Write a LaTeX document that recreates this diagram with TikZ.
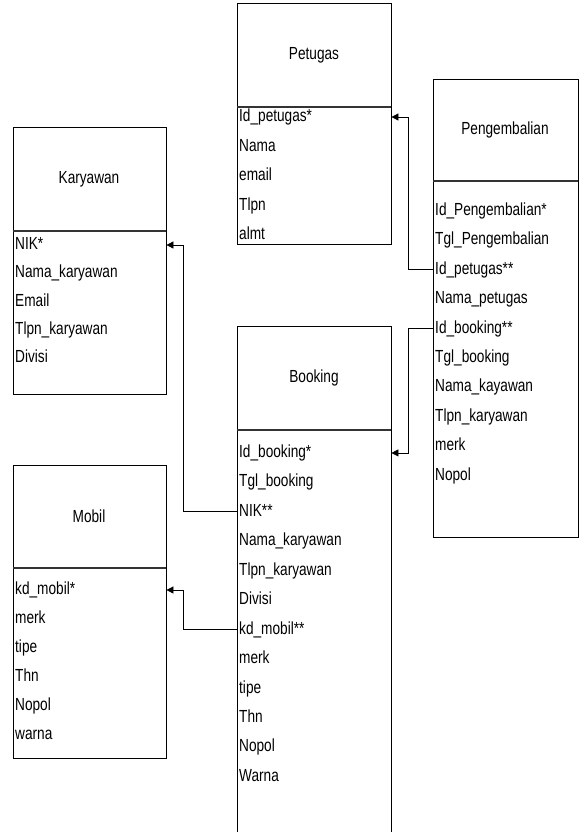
\documentclass[tikz,border=0pt]{standalone}
\usepackage{fontspec}
\setmainfont{Liberation Sans}[FakeStretch=0.78]
\usepackage{tikz}
\usetikzlibrary{positioning,arrows.meta}

\begin{document}
\begin{tikzpicture}[x=1pt, y=-1pt,
  entity/.style={rectangle, draw, line width=0.8pt, anchor=north west, inner sep=0pt},
  divider/.style={line width=1.1pt, draw=black!80},
  title/.style={font=\fontsize{17.5}{20}\selectfont},
  attr/.style={anchor=west, inner xsep=2pt, inner ysep=0pt, text width=#1, align=left, text height=12.5pt, text depth=3.5pt, font=\fontsize{17.5}{20}\selectfont},
  fk/.style={-{Triangle[length=7pt,width=7pt]}, line width=0.8pt}
]
\useasboundingbox (0,0) rectangle (579,832);

\node[entity, minimum width=154pt, minimum height=241pt] (ptg) at (237,3) {};
\node[entity, minimum width=145pt, minimum height=458pt] (pgb) at (433,79) {};
\node[entity, minimum width=153pt, minimum height=267pt] (kry) at (13,127) {};
\node[entity, minimum width=154pt, minimum height=530pt] (bkg) at (237,326) {};
\node[entity, minimum width=153pt, minimum height=293pt] (mbl) at (13,465) {};

\draw[divider] (ptg.north west) ++(0,104) -- ++(154,0);
\draw[divider] (pgb.north west) ++(0,102) -- ++(145,0);
\draw[divider] (kry.north west) ++(0,104) -- ++(153,0);
\draw[divider] (bkg.north west) ++(0,104) -- ++(154,0);
\draw[divider] (mbl.north west) ++(0,103) -- ++(153,0);

\node[title] (ptg-t) at (314,55) {Petugas};
\node[title] (pgb-t) at (505,130) {Pengembalian};
\node[title] (kry-t) at (89,179) {Karyawan};
\node[title] (bkg-t) at (314,378) {Booking};
\node[title] (mbl-t) at (89,516) {Mobil};

\foreach \t [count=\i] in {Id\_petugas*, Nama, email, Tlpn, almt}
  \node[attr=150pt] (ptg-\i) at (237,87.5+29.5*\i) {\t};
\foreach \t [count=\i] in {Id\_Pengembalian*, Tgl\_Pengembalian, Id\_petugas**, Nama\_petugas,
    Id\_booking**, Tgl\_booking, Nama\_kayawan, Tlpn\_karyawan, merk, Nopol}
  \node[attr=141pt] (pgb-\i) at (433,181.6+29.4*\i) {\t};
\foreach \t [count=\i] in {NIK*, Nama\_karyawan, Email, Tlpn\_karyawan, Divisi}
  \node[attr=149pt] (kry-\i) at (13,216.7+28.3*\i) {\t};
\foreach \t [count=\i] in {Id\_booking*, Tgl\_booking, NIK**, Nama\_karyawan, Tlpn\_karyawan, Divisi,
    kd\_mobil**, merk, tipe, Thn, Nopol, Warna}
  \node[attr=150pt] (bkg-\i) at (237,423.5+29.45*\i) {\t};
\foreach \t [count=\i] in {kd\_mobil*, merk, tipe, Thn, Nopol, warna}
  \node[attr=149pt] (mbl-\i) at (13,561+29*\i) {\t};

\draw[fk] (pgb-3.west) -- ++(-25,0) |- (ptg-1.east);
\draw[fk] (pgb-5.west) -- ++(-25,0) |- (bkg-1.east);
\draw[fk] (bkg-3.west) -- ++(-54,0) |- (kry-1.east);
\draw[fk] (bkg-7.west) -- ++(-54,0) |- (mbl-1.east);
\end{tikzpicture}
\end{document}
